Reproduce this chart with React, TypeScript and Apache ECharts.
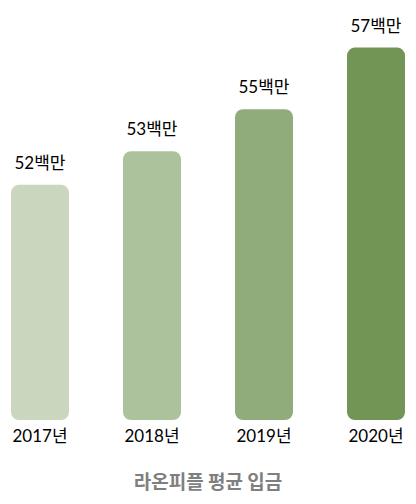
import React, { useEffect, useRef } from "react";
import * as echarts from "echarts";

const categories = ["2017년", "2018년", "2019년", "2020년"];
const values = [52.4, 53.6, 55.1, 57.3];
const valueLabels = ["52백만", "53백만", "55백만", "57백만"];
const barColors = ["#CBD6BF", "#ACC29C", "#90AC7A", "#729555"];
const chartTitle = "라온피플 평균 입금";

export default function App() {
  const ref = useRef<HTMLDivElement>(null);
  useEffect(() => {
    if (!ref.current) return;
    const chart = echarts.init(ref.current, null, { renderer: "svg" });
    const font = "Lato, 'Noto Sans CJK KR', sans-serif";
    chart.setOption({
      animation: false,
      backgroundColor: "#ffffff",
      title: {
        text: chartTitle,
        left: "center",
        top: 466,
        textStyle: {
          color: "#7F7F7F",
          fontSize: 19,
          fontWeight: "bold",
          fontFamily: "'Noto Sans CJK KR', sans-serif",
        },
      },
      grid: { left: 0, right: 0, top: 28, bottom: 84, containLabel: false },
      xAxis: {
        type: "category",
        data: categories,
        axisLine: { show: false },
        axisTick: { show: false },
        axisLabel: {
          color: "#000",
          fontSize: 17,
          fontFamily: font,
          margin: 7,
        },
      },
      yAxis: {
        type: "value",
        min: 44,
        max: 58,
        show: false,
        splitLine: { show: false },
      },
      series: [
        {
          type: "bar",
          barWidth: 58,
          data: values.map((v, i) => ({
            value: v,
            itemStyle: { color: barColors[i], borderRadius: [8, 8, 8, 8] },
          })),
          label: {
            show: true,
            position: "top",
            distance: 14,
            color: "#000",
            fontSize: 17,
            fontFamily: font,
            formatter: (p: any) => valueLabels[p.dataIndex],
          },
        },
      ],
    });
    return () => chart.dispose();
  }, []);
  return (
    <div style={{ position: "absolute", left: 0, top: 0, width: 416, height: 504, overflow: "hidden", background: "#fff" }}>
      <div ref={ref} style={{ width: 448, height: 504, position: "absolute", left: -16, top: 0 }} />
    </div>
  );
}
